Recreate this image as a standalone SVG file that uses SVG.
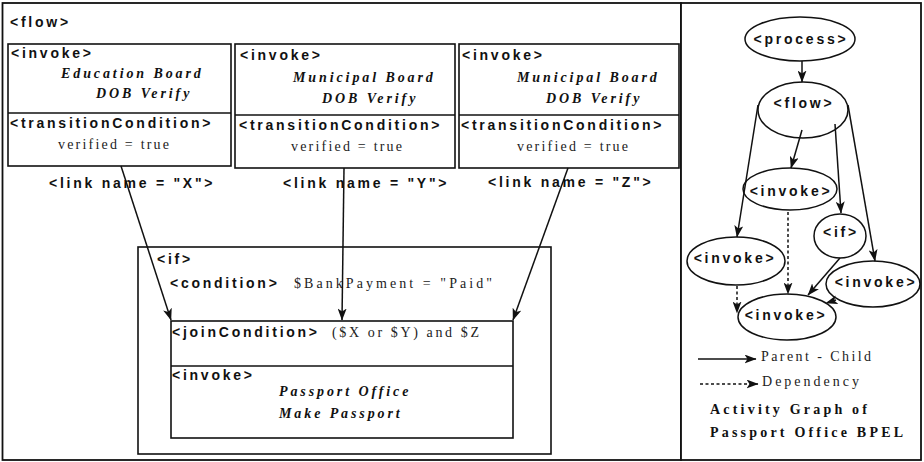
<svg xmlns="http://www.w3.org/2000/svg" width="924" height="462" viewBox="0 0 924 462">
  <style>
    .frame { fill: #fff; stroke: #111; stroke-width: 1.8; }
    .box { fill: none; stroke: #111; stroke-width: 1.6; }
    .tag { font-family: "Liberation Sans", Arial, sans-serif; font-weight: bold; font-size: 14px; letter-spacing: 2.75px; fill: #111; }
    .name { font-family: "Liberation Serif", "Times New Roman", serif; font-weight: bold; font-style: italic; font-size: 14px; letter-spacing: 2.9px; fill: #111; }
    .expr { font-family: "Liberation Serif", "Times New Roman", serif; font-size: 14px; fill: #222; }
    .title { font-family: "Liberation Serif", "Times New Roman", serif; font-weight: bold; font-size: 14px; letter-spacing: 3.2px; fill: #111; }
    .node { fill: #fff; stroke: #111; stroke-width: 1.5; }
    .edge { fill: none; stroke: #111; stroke-width: 1.5; }
    .dep { fill: none; stroke: #111; stroke-width: 1.5; stroke-dasharray: 3 2.5; }
    .mid { text-anchor: middle; }
  </style>
  <defs>
    <marker id="arrow" viewBox="0 0 12 9" refX="11.5" refY="4.5" markerWidth="12" markerHeight="9" markerUnits="userSpaceOnUse" orient="auto">
      <path d="M0,0 L12,4.5 L0,9 L3,4.5 Z" fill="#111"/>
    </marker>
  </defs>

  <!-- outer panels -->
  <rect class="frame" x="2.5" y="3" width="678.5" height="457"/>
  <rect class="frame" x="681" y="3" width="240" height="457"/>

  <!-- BPEL flow listing -->
  <g id="flow">
    <text class="tag" x="10" y="27">&lt;flow&gt;</text>
  </g>

  <g id="invoke-education">
    <rect class="box" x="8" y="44" width="223" height="122"/>
    <line class="box" x1="8" y1="113" x2="231" y2="113"/>
    <text class="tag" x="11" y="58">&lt;invoke&gt;</text>
    <text class="name" x="61" y="78">Education Board</text>
    <text class="name" x="96" y="98">DOB Verify</text>
    <text class="tag" x="10" y="128">&lt;transitionCondition&gt;</text>
    <text class="expr" x="58" y="149" textLength="111" lengthAdjust="spacing">verified = true</text>
    <text class="tag" x="49" y="188">&lt;link name = "X"&gt;</text>
  </g>

  <g id="invoke-municipal-y">
    <rect class="box" x="235" y="44" width="220" height="124"/>
    <line class="box" x1="235" y1="115" x2="455" y2="115"/>
    <text class="tag" x="240" y="60">&lt;invoke&gt;</text>
    <text class="name" x="293" y="82">Municipal Board</text>
    <text class="name" x="322" y="103">DOB Verify</text>
    <text class="tag" x="239" y="130">&lt;transitionCondition&gt;</text>
    <text class="expr" x="291" y="151" textLength="111" lengthAdjust="spacing">verified = true</text>
    <text class="tag" x="283" y="188">&lt;link name = "Y"&gt;</text>
  </g>

  <g id="invoke-municipal-z">
    <rect class="box" x="459" y="44" width="220" height="124"/>
    <line class="box" x1="459" y1="115" x2="679" y2="115"/>
    <text class="tag" x="462" y="60">&lt;invoke&gt;</text>
    <text class="name" x="517" y="82">Municipal Board</text>
    <text class="name" x="546" y="103">DOB Verify</text>
    <text class="tag" x="461" y="130">&lt;transitionCondition&gt;</text>
    <text class="expr" x="517" y="151" textLength="111" lengthAdjust="spacing">verified = true</text>
    <text class="tag" x="488" y="187">&lt;link name = "Z"&gt;</text>
  </g>

  <g id="if">
    <rect class="box" x="138" y="247" width="413" height="207"/>
    <text class="tag" x="157" y="264">&lt;if&gt;</text>
    <text class="tag" x="170" y="288">&lt;condition&gt;</text>
    <text class="expr" x="294" y="288" textLength="198" lengthAdjust="spacing">$BankPayment = "Paid"</text>
  </g>

  <g id="invoke-passport">
    <rect class="box" x="171" y="321" width="342" height="117"/>
    <line class="box" x1="171" y1="366" x2="513" y2="366"/>
    <text class="tag" x="172" y="337">&lt;joinCondition&gt;</text>
    <text class="expr" x="332" y="337" textLength="147" lengthAdjust="spacing">($X or $Y) and $Z</text>
    <text class="tag" x="172" y="380">&lt;invoke&gt;</text>
    <text class="name" x="279" y="396">Passport Office</text>
    <text class="name" x="279" y="418">Make Passport</text>
  </g>

  <!-- activity graph nodes -->
  <g id="g-process">
    <ellipse class="node" cx="800" cy="39" rx="55" ry="22"/>
    <text class="tag mid" x="801" y="44">&lt;process&gt;</text>
  </g>
  <g id="g-flow">
    <ellipse class="node" cx="803" cy="110" rx="45" ry="28"/>
    <text class="tag mid" x="804" y="108">&lt;flow&gt;</text>
  </g>
  <g id="g-invoke-mid">
    <ellipse class="node" cx="790" cy="189" rx="47" ry="21"/>
    <text class="tag mid" x="791" y="196">&lt;invoke&gt;</text>
  </g>
  <g id="g-if">
    <ellipse class="node" cx="840" cy="236" rx="26" ry="22"/>
    <text class="tag mid" x="841" y="237">&lt;if&gt;</text>
  </g>
  <g id="g-invoke-left">
    <ellipse class="node" cx="736" cy="261" rx="49" ry="24"/>
    <text class="tag mid" x="735" y="263">&lt;invoke&gt;</text>
  </g>
  <g id="g-invoke-right">
    <ellipse class="node" cx="873" cy="284" rx="47" ry="23"/>
    <text class="tag mid" x="876" y="287">&lt;invoke&gt;</text>
  </g>
  <g id="g-invoke-bottom">
    <ellipse class="node" cx="787" cy="317" rx="49" ry="23"/>
    <text class="tag mid" x="786" y="320">&lt;invoke&gt;</text>
  </g>

  <!-- legend -->
  <g id="legend">
    <line class="edge" x1="698" y1="359" x2="756" y2="359" marker-end="url(#arrow)"/>
    <text class="expr" x="761" y="361" textLength="110" lengthAdjust="spacing">Parent - Child</text>
    <line class="dep" x1="700" y1="384" x2="758" y2="384" marker-end="url(#arrow)"/>
    <text class="expr" x="762" y="386" textLength="97" lengthAdjust="spacing">Dependency</text>
    <text class="title" x="710" y="414">Activity Graph of</text>
    <text class="title" x="710" y="437">Passport Office BPEL</text>
  </g>

  <!-- connectors -->
  <g id="connectors">
    <!-- links into the joinCondition -->
    <line class="edge" x1="121" y1="166" x2="171" y2="320" marker-end="url(#arrow)"/>
    <line class="edge" x1="344" y1="168" x2="342" y2="320" marker-end="url(#arrow)"/>
    <line class="edge" x1="568" y1="168" x2="513" y2="320" marker-end="url(#arrow)"/>

    <!-- activity graph edges -->
    <line class="edge" x1="802" y1="61" x2="802" y2="82" marker-end="url(#arrow)"/>
    <line class="edge" x1="802" y1="130" x2="791" y2="168" marker-end="url(#arrow)"/>
    <line class="edge" x1="835" y1="124" x2="841" y2="213" marker-end="url(#arrow)"/>
    <line class="edge" x1="758" y1="105" x2="737" y2="237" marker-end="url(#arrow)"/>
    <line class="edge" x1="848" y1="105" x2="875" y2="261" marker-end="url(#arrow)"/>
    <line class="edge" x1="840" y1="258" x2="808" y2="295" marker-end="url(#arrow)"/>
    <line class="dep" x1="788" y1="212" x2="788" y2="294" marker-end="url(#arrow)"/>
    <line class="dep" x1="737" y1="286" x2="737" y2="313" marker-end="url(#arrow)"/>
    <line class="dep" x1="836" y1="300" x2="826" y2="303" marker-end="url(#arrow)"/>
  </g>
</svg>
